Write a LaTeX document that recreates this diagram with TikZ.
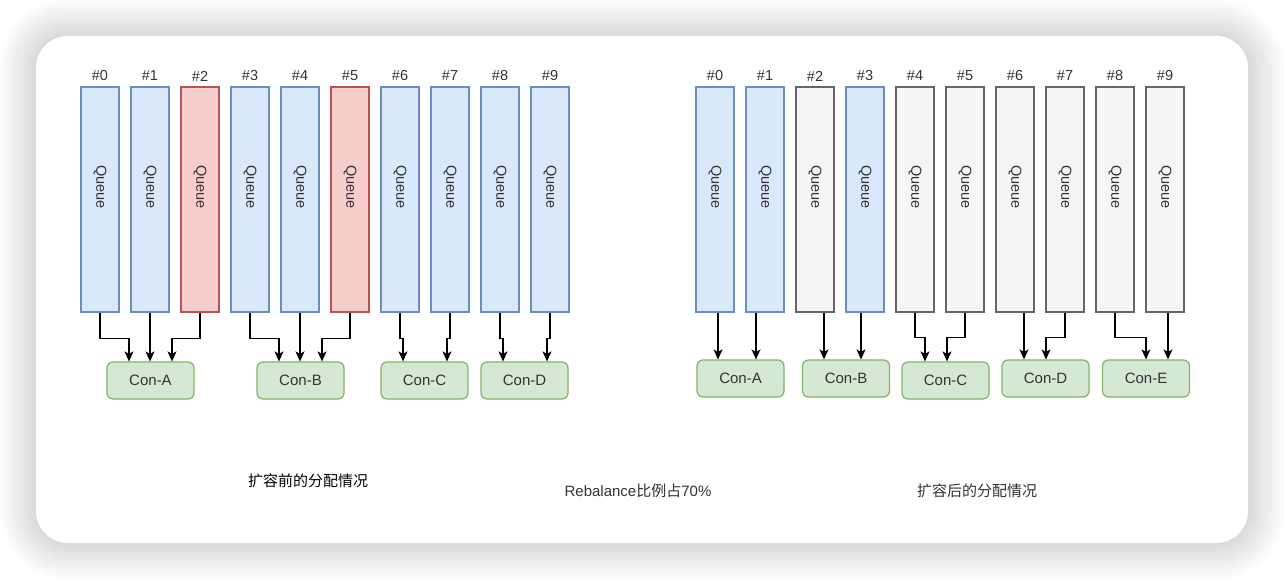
\documentclass[tikz,border=0pt]{standalone}
\usepackage{fontspec}
\setmainfont{Liberation Sans}
\newfontfamily\cjk{Noto Sans CJK SC}
\usetikzlibrary{arrows.meta}
\definecolor{qblue}{HTML}{DAE8FC}
\definecolor{qbluel}{HTML}{6C8EBF}
\definecolor{qred}{HTML}{F8CECC}
\definecolor{qredl}{HTML}{B85450}
\definecolor{qgray}{HTML}{F5F5F5}
\definecolor{qgrayl}{HTML}{666666}
\definecolor{cgreen}{HTML}{D5E8D4}
\definecolor{cgreenl}{HTML}{82B366}
\definecolor{dark}{HTML}{333333}
\tikzset{
  queue/.style={draw, line width=1.2pt, minimum width=38pt, minimum height=225pt, inner sep=0pt},
  qtext/.style={rotate=-90, text=dark, font=\fontsize{14.5}{17}\selectfont, inner sep=0pt},
  qnum/.style={text=dark, font=\fontsize{14.5}{17}\selectfont, inner sep=0pt},
  con/.style={draw=cgreenl, fill=cgreen, line width=1.2pt, rounded corners=6pt, minimum width=87pt, minimum height=37pt, inner sep=0pt, text=dark, font=\fontsize{15}{17}\selectfont},
  arr/.style={draw=black, line width=1.2pt, -{Stealth[length=10pt,width=9pt,inset=2.5pt]}},
  captext/.style={font=\fontsize{15}{17}\selectfont, inner sep=0pt}
}
\begin{document}
\begin{tikzpicture}[x=1pt,y=-1pt]
\useasboundingbox (0,0) rectangle (1284,580);
\fill[white] (0,0) rectangle (1284,580);
\foreach \i in {0,...,11} {
  \pgfmathsetmacro\o{36-3*\i}
  \pgfmathsetmacro\r{32+\o}
  \fill[black, opacity=0.013, rounded corners=\r pt] (36-\o,36-\o) rectangle (1248+\o,543+\o);
}
\fill[white, rounded corners=32pt] (36,36) rectangle (1248,543);

% left queues
\foreach \i/\f/\d in {0/qblue/qbluel,1/qblue/qbluel,2/qred/qredl,3/qblue/qbluel,4/qblue/qbluel,5/qred/qredl,6/qblue/qbluel,7/qblue/qbluel,8/qblue/qbluel,9/qblue/qbluel} {
  \node[queue, fill=\f, draw=\d] (L\i) at (100+50*\i,199.5) {};
  \node[qtext] (LT\i) at (100+50*\i,187) {Queue};
  \node[qnum] (LN\i) at (100+50*\i,76) {\#\i};
}
% right queues
\foreach \i/\f/\d in {0/qblue/qbluel,1/qblue/qbluel,2/qgray/qgrayl,3/qblue/qbluel,4/qgray/qgrayl,5/qgray/qgrayl,6/qgray/qgrayl,7/qgray/qgrayl,8/qgray/qgrayl,9/qgray/qgrayl} {
  \node[queue, fill=\f, draw=\d] (R\i) at (715+50*\i,199.5) {};
  \node[qtext] (RT\i) at (715+50*\i,187) {Queue};
  \node[qnum] (RN\i) at (715+50*\i,76) {\#\i};
}

% left consumers
\node[con] (LA) at (150.5,380.5) {Con-A};
\node[con] (LB) at (300.5,380.5) {Con-B};
\node[con] (LC) at (424.5,380.5) {Con-C};
\node[con] (LD) at (524.5,380.5) {Con-D};
% right consumers
\node[con] (RA) at (740.5,378.5) {Con-A};
\node[con] (RB) at (846,378.5) {Con-B};
\node[con] (RC) at (945.5,380.5) {Con-C};
\node[con] (RD) at (1045.5,378.5) {Con-D};
\node[con] (RE) at (1146,378.5) {Con-E};

% left arrows
\draw[arr] (L0.south) -- ++(0,26) -| ([xshift=-21.5pt]LA.north);
\draw[arr] (L1.south) -- (L1.south |- LA.north);
\draw[arr] (L2.south) -- ++(0,26) -| ([xshift=21.5pt]LA.north);
\draw[arr] (L3.south) -- ++(0,26) -| ([xshift=-21.5pt]LB.north);
\draw[arr] (L4.south) -- (L4.south |- LB.north);
\draw[arr] (L5.south) -- ++(0,26) -| ([xshift=21.5pt]LB.north);
\draw[arr] (L6.south) -- ++(0,26) -| ([xshift=-21.5pt]LC.north);
\draw[arr] (L7.south) -- ++(0,26) -| ([xshift=22.5pt]LC.north);
\draw[arr] (L8.south) -- ++(0,26) -| ([xshift=-21.5pt]LD.north);
\draw[arr] (L9.south) -- ++(0,26) -| ([xshift=22.5pt]LD.north);

% right arrows
\draw[arr] ([xshift=3pt]R0.south) -- ([xshift=3pt]R0.south |- RA.north);
\draw[arr] ([xshift=-9pt]R1.south) -- ([xshift=-9pt]R1.south |- RA.north);
\draw[arr] ([xshift=9pt]R2.south) -- ([xshift=9pt]R2.south |- RB.north);
\draw[arr] ([xshift=-4pt]R3.south) -- ([xshift=-4pt]R3.south |- RB.north);
\draw[arr] (R4.south) -- ++(0,25) -| ([xshift=-20.5pt]RC.north);
\draw[arr] (R5.south) -- ++(0,25) -| ([xshift=1.5pt]RC.north);
\draw[arr] ([xshift=9pt]R6.south) -- ([xshift=9pt]R6.south |- RD.north);
\draw[arr] (R7.south) -- ++(0,25) -| ([xshift=0.5pt]RD.north);
\draw[arr] (R8.south) -- ++(0,25) -| (RE.north);
\draw[arr] ([xshift=3pt]R9.south) -- ([xshift=3pt]R9.south |- RE.north);

% captions
\node[captext, text=black] (C1) at (308,481) {\cjk 扩容前的分配情况};
\node[captext, text=dark] (C2) at (638,491) {Rebalance{\cjk 比例占}70\%};
\node[captext, text=dark] (C3) at (977,491) {\cjk 扩容后的分配情况};
\end{tikzpicture}
\end{document}
